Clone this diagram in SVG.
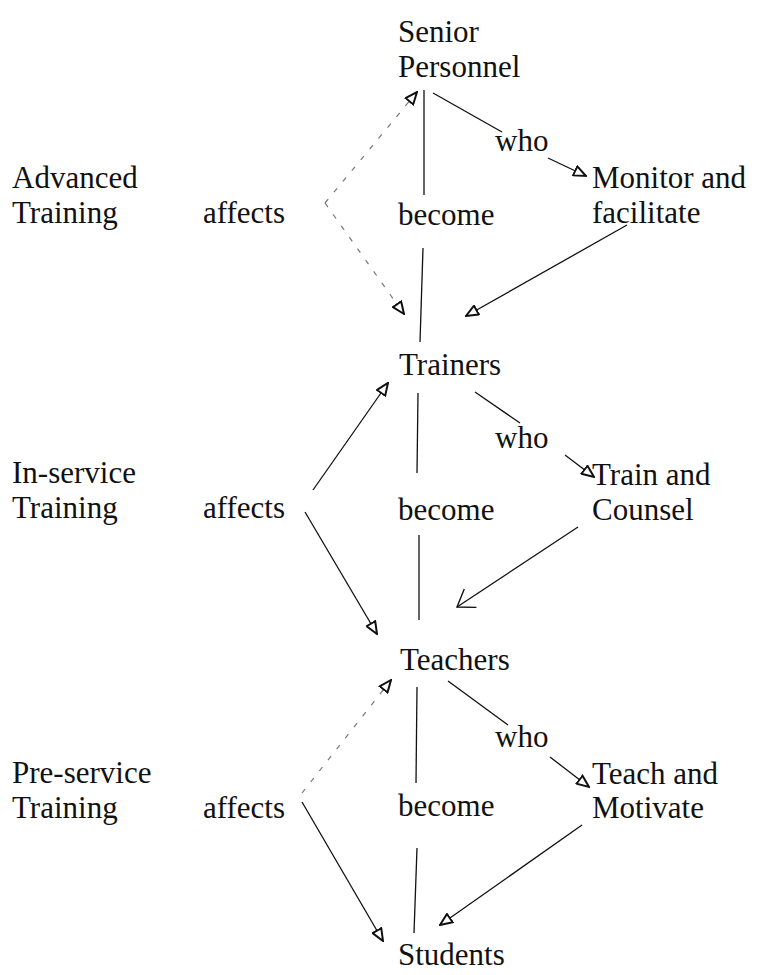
<svg xmlns="http://www.w3.org/2000/svg" width="757" height="975" viewBox="0 0 757 975">
<defs>
<style>
text{font-family:"Liberation Serif","Times New Roman",serif;font-size:31px;fill:#111}
.c line{stroke:#111;stroke-width:1.3;fill:none}
.c line.d{stroke:#777;stroke-dasharray:5 9;stroke-width:1.2}
.c line.a{marker-end:url(#tri)}
.c line.v{marker-end:url(#vee)}
</style>
<marker id="tri" markerUnits="userSpaceOnUse" markerWidth="14" markerHeight="12" refX="12" refY="5" orient="auto" viewBox="-1 -1 14 12">
<path d="M0,0 L12,5 L0,10 Z" fill="#fff" stroke="#111" stroke-width="2"/>
</marker>
<marker id="vee" markerUnits="userSpaceOnUse" markerWidth="20" markerHeight="26" refX="16" refY="11" orient="auto" viewBox="-2 -2 20 26">
<path d="M0,0 L16,11 L0,22" fill="none" stroke="#111" stroke-width="1.4"/>
</marker>
</defs>
<rect width="757" height="975" fill="#fff"/>
<g id="labels-left">
<g id="advanced"><text x="12" y="188">Advanced</text><text x="12" y="223">Training</text></g>
<g id="inservice"><text x="12" y="483">In-service</text><text x="12" y="518">Training</text></g>
<g id="preservice"><text x="12" y="783">Pre-service</text><text x="12" y="818">Training</text></g>
</g>
<g id="senior"><text x="398" y="42">Senior</text><text x="398" y="77">Personnel</text></g>
<g id="trainers"><text x="399" y="375">Trainers</text></g>
<g id="teachers"><text x="400" y="670">Teachers</text></g>
<g id="students"><text x="398" y="965">Students</text></g>
<g id="monitor"><text x="592" y="188">Monitor and</text><text x="592" y="223">facilitate</text></g>
<g id="train"><text x="592" y="485">Train and</text><text x="592" y="520">Counsel</text></g>
<g id="teach"><text x="592" y="784">Teach and</text><text x="592" y="818">Motivate</text></g>
<g id="affects1"><text x="203" y="223">affects</text></g>
<g id="affects2"><text x="203" y="518">affects</text></g>
<g id="affects3"><text x="203" y="818">affects</text></g>
<g id="become1"><text x="398" y="225">become</text></g>
<g id="become2"><text x="398" y="520">become</text></g>
<g id="become3"><text x="398" y="816">become</text></g>
<g id="who1"><text x="495" y="151">who</text></g>
<g id="who2"><text x="495" y="448">who</text></g>
<g id="who3"><text x="495" y="747">who</text></g>
<g id="connectors" class="c">
<line x1="424" y1="90" x2="424" y2="195"/>
<line x1="423" y1="248" x2="420" y2="342"/>
<line class="d a" x1="325" y1="203" x2="417" y2="92"/>
<line class="d a" x1="325" y1="203" x2="404" y2="314"/>
<line x1="433" y1="93" x2="502" y2="132"/>
<line class="a" x1="548" y1="158" x2="586" y2="176"/>
<line class="a" x1="627" y1="225" x2="466" y2="316"/>
<line class="a" x1="313" y1="490" x2="388" y2="383"/>
<line class="a" x1="305" y1="512" x2="377" y2="634"/>
<line x1="418" y1="393" x2="417" y2="473"/>
<line x1="419" y1="535" x2="419" y2="620"/>
<line x1="475" y1="392" x2="520" y2="423"/>
<line class="a" x1="565" y1="455" x2="594" y2="477"/>
<line class="v" x1="578" y1="527" x2="457" y2="607"/>
<line class="d a" x1="302" y1="793" x2="391" y2="680"/>
<line class="a" x1="302" y1="802" x2="383" y2="941"/>
<line x1="417" y1="687" x2="416" y2="783"/>
<line x1="417" y1="848" x2="414" y2="933"/>
<line x1="448" y1="681" x2="508" y2="725"/>
<line class="a" x1="550" y1="757" x2="589" y2="787"/>
<line class="a" x1="582" y1="825" x2="440" y2="925"/>
</g>
</svg>
